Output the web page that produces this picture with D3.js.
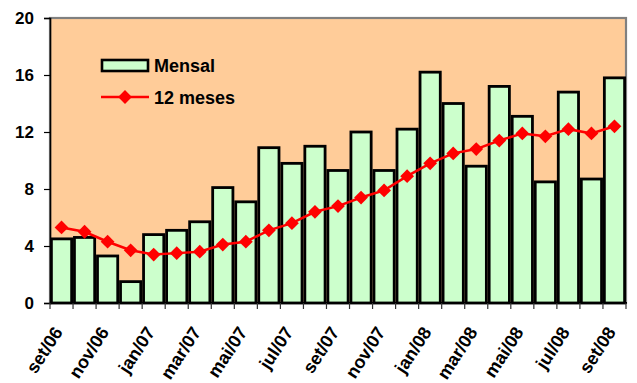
<!DOCTYPE html>
<html>
<head>
<meta charset="utf-8">
<script src="https://cdn.jsdelivr.net/npm/d3@7/dist/d3.min.js"></script>
<style>
  html, body { margin: 0; padding: 0; background: #ffffff; }
  svg { display: block; }
  text { font-family: "Liberation Sans", Arial, sans-serif; font-weight: bold; fill: #000; }
</style>
</head>
<body>
<svg id="chart" width="637" height="383"></svg>
<script>
// Monthly categories, set/06 .. set/08
const months = ["set/06","out/06","nov/06","dez/06","jan/07","fev/07","mar/07","abr/07",
  "mai/07","jun/07","jul/07","ago/07","set/07","out/07","nov/07","dez/07","jan/08",
  "fev/08","mar/08","abr/08","mai/08","jun/08","jul/08","ago/08","set/08"];

// Monthly values (bars)
const mensal = [4.5, 4.6, 3.3, 1.5, 4.8, 5.1, 5.7, 8.1, 7.1, 10.9, 9.8, 11.0, 9.3,
  12.0, 9.3, 12.2, 16.2, 14.0, 9.6, 15.2, 13.1, 8.5, 14.8, 8.7, 15.8];

// 12-month accumulated values (line)
const doze = [5.3, 5.0, 4.3, 3.7, 3.4, 3.5, 3.6, 4.1, 4.3, 5.1, 5.6, 6.4, 6.8,
  7.4, 7.9, 8.9, 9.8, 10.5, 10.8, 11.4, 11.9, 11.7, 12.2, 11.9, 12.4];

const yTicks = [0, 4, 8, 12, 16, 20];
const xLabelEvery = 2;

const svg = d3.select("#chart");
const plot = { left: 50, right: 626, top: 18, bottom: 303 };

const x = d3.scaleBand().domain(months).range([plot.left, plot.right]).padding(0);
const y = d3.scaleLinear().domain([0, 20]).range([plot.bottom, plot.top]);

// Plot area background with grey frame
svg.append("rect")
  .attr("x", plot.left).attr("y", plot.top)
  .attr("width", plot.right - plot.left).attr("height", plot.bottom - plot.top)
  .attr("fill", "#FFCC99").attr("stroke", "#808080").attr("stroke-width", 2.2);

// Bars (stroke centred on the value)
const sw = 2.8;
svg.append("g").selectAll("rect").data(mensal).join("rect")
  .attr("x", (d, i) => x(months[i]) + sw / 2)
  .attr("width", x.bandwidth() - sw)
  .attr("y", d => y(d))
  .attr("height", d => y(0) - y(d))
  .attr("fill", "#CCFFCC").attr("stroke", "#000").attr("stroke-width", sw);

// 12-month line
const cx = (d, i) => x(months[i]) + x.bandwidth() / 2;
svg.append("path").datum(doze)
  .attr("fill", "none").attr("stroke", "#FF0000").attr("stroke-width", 2.5)
  .attr("d", d3.line().x(cx).y(d => y(d)));

svg.append("g").selectAll("path").data(doze).join("path")
  .attr("transform", (d, i) => `translate(${cx(d, i)},${y(d)}) rotate(45)`)
  .attr("d", d3.symbol().type(d3.symbolSquare).size(95))
  .attr("fill", "#FF0000");

// Y axis
const yAxis = svg.append("g").attr("transform", `translate(${plot.left},0)`)
  .call(d3.axisLeft(y).tickValues(yTicks).tickSize(6).tickPadding(10));
yAxis.select(".domain").attr("stroke", "#000").attr("stroke-width", 1.6);
yAxis.selectAll(".tick line").attr("stroke", "#000").attr("stroke-width", 1.2);
yAxis.selectAll(".tick text")
  .style("font-size", "17px").style("font-family", "Liberation Sans, Arial, sans-serif")
  .style("font-weight", "bold").attr("fill", "#000");

// X axis: ticks at category boundaries, labels every second month
const xAxisG = svg.append("g").attr("transform", `translate(0,${plot.bottom})`);
xAxisG.append("line")
  .attr("x1", plot.left).attr("x2", plot.right + 1)
  .attr("stroke", "#000").attr("stroke-width", 2);
const bounds = months.map(m => x(m)).concat([plot.right]);
xAxisG.selectAll("line.tk").data(bounds).join("line").attr("class", "tk")
  .attr("x1", d => d).attr("x2", d => d).attr("y1", 0).attr("y2", 6)
  .attr("stroke", "#333").attr("stroke-width", 1.2);

xAxisG.selectAll("text").data(months.filter((m, i) => i % xLabelEvery === 0)).join("text")
  .attr("transform", m => `translate(${x(m) + x.bandwidth() / 2 + 2},${29}) rotate(-57)`)
  .attr("text-anchor", "end")
  .style("font-size", "18px")
  .text(m => m);

// Legend
const lg = svg.append("g");
lg.append("rect").attr("x", 102).attr("y", 60).attr("width", 46).attr("height", 11)
  .attr("fill", "#CCFFCC").attr("stroke", "#000").attr("stroke-width", 2.6);
lg.append("text").attr("x", 154).attr("y", 71.5).style("font-size", "18px").text("Mensal");
lg.append("line").attr("x1", 101).attr("x2", 149).attr("y1", 97).attr("y2", 97)
  .attr("stroke", "#FF0000").attr("stroke-width", 2.5);
lg.append("path").attr("transform", "translate(125,97) rotate(45)")
  .attr("d", d3.symbol().type(d3.symbolSquare).size(95)).attr("fill", "#FF0000");
lg.append("text").attr("x", 154).attr("y", 103.5).style("font-size", "18px").text("12 meses");
</script>
</body>
</html>
